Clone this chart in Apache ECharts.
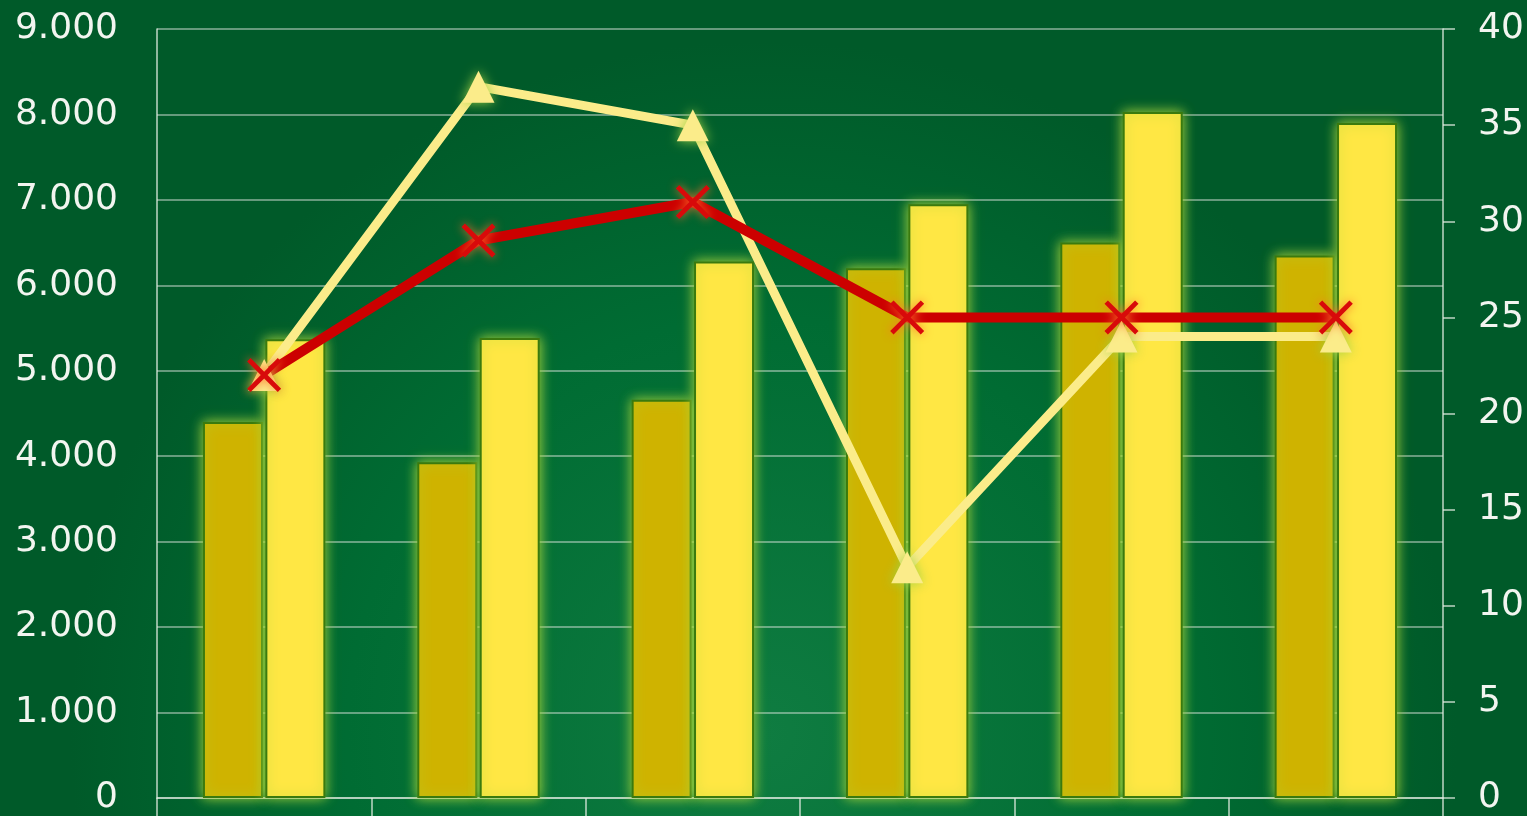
<!DOCTYPE html>
<html>
<head>
<meta charset="utf-8">
<script src="https://cdn.jsdelivr.net/npm/echarts@6/dist/echarts.min.js"></script>
<style>html,body{margin:0;padding:0;width:100%;height:100%;overflow:hidden;}#c{width:1527px;height:816px;}</style>
</head>
<body>
<div id="c"></div>
<script>
var categories = ['1', '2', '3', '4', '5', '6'];
var barDark = [4400, 3930, 4660, 6200, 6500, 6350];
var barBright = [5370, 5385, 6280, 6950, 8030, 7900];
var lineYellow = [22, 37, 35, 12, 24, 24];
var lineRed = [22, 29, 31, 25, 25, 25];

function fmt(v) { return String(v).replace(/\B(?=(\d{3})+(?!\d))/g, '.'); }

var chart = echarts.init(document.getElementById('c'));
var axisCol = 'rgba(225,235,225,0.85)';
var xPath = 'path://M0,2 L2,0 L10,8 L18,0 L20,2 L12,10 L20,18 L18,20 L10,12 L2,20 L0,18 L8,10 Z';
chart.setOption({
  animation: false,
  backgroundColor: {
    type: 'radial', x: 0.5, y: 0.9, r: 0.85,
    colorStops: [{offset: 0, color: '#0f7c41'}, {offset: 0.6, color: '#006c33'}, {offset: 1, color: '#005a29'}]
  },
  grid: {left: 157, right: 84, top: 29, bottom: 16, containLabel: false},
  xAxis: {
    type: 'category', data: categories,
    axisLine: {show: true, lineStyle: {color: axisCol, width: 1.5}},
    axisTick: {show: true, length: 20, lineStyle: {color: axisCol, width: 1.5}},
    axisLabel: {show: false},
    splitLine: {show: false}
  },
  yAxis: [{
    type: 'value', min: 0, max: 9000, interval: 1000,
    axisLine: {show: true, lineStyle: {color: axisCol, width: 1.5}},
    axisTick: {show: false},
    axisLabel: {color: '#f2f5f0', fontSize: 36, fontFamily: 'DejaVu Sans', margin: 39, formatter: fmt},
    splitLine: {show: true, lineStyle: {color: 'rgba(230,235,230,0.6)', width: 1.5}}
  }, {
    type: 'value', min: 0, max: 40, interval: 5,
    axisLine: {show: true, lineStyle: {color: axisCol, width: 1.5}},
    axisTick: {show: true, length: 12, lineStyle: {color: axisCol, width: 1.5}},
    axisLabel: {color: '#f2f5f0', fontSize: 36, fontFamily: 'DejaVu Sans', margin: 35},
    splitLine: {show: false}
  }],
  series: [{
    type: 'bar', data: barDark, barWidth: 60, barGap: '4%',
    itemStyle: {color: '#cfb300', borderColor: '#3a7a0e', borderWidth: 2,
      shadowColor: 'rgba(170,215,60,1)', shadowBlur: 12}
  }, {
    type: 'bar', data: barBright, barWidth: 60, barGap: '4%',
    itemStyle: {color: '#ffe744', borderColor: '#3a7a0e', borderWidth: 2,
      shadowColor: 'rgba(170,215,60,1)', shadowBlur: 12}
  }, {
    type: 'line', yAxisIndex: 1, data: lineYellow,
    symbol: 'triangle', symbolSize: 32,
    lineStyle: {color: '#fbec8a', width: 9},
    itemStyle: {color: '#fbec8a', shadowColor: 'rgba(160,210,70,0.95)', shadowBlur: 12}
  }, {
    type: 'line', yAxisIndex: 1, data: lineRed,
    symbol: xPath, symbolSize: 34,
    lineStyle: {color: '#cc0000', width: 10},
    itemStyle: {color: '#d80a0a', shadowColor: 'rgba(255,110,40,0.95)', shadowBlur: 10}
  }]
});
</script>
</body>
</html>
